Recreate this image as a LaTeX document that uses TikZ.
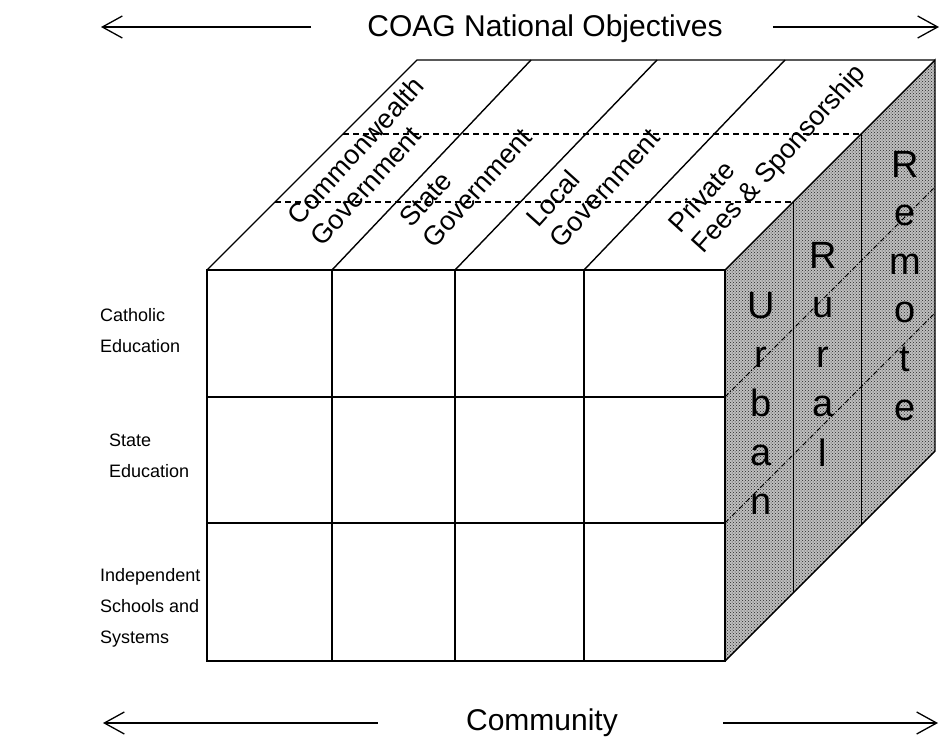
\documentclass[tikz,border=0pt]{standalone}
\usepackage{fontspec}
\setmainfont{Liberation Sans}
\usetikzlibrary{arrows.meta,patterns}

\tikzset{
  axislabel/.style={font=\fontsize{30}{36}\selectfont, inner sep=0pt, anchor=base},
  axisarrow/.style={line width=1.3pt, -{Straight Barb[length=20pt,width=22pt]}},
  rowlabel/.style={font=\fontsize{18}{31}\selectfont, align=left, anchor=west, inner sep=0pt},
  toplabel/.style={font=\fontsize{27}{31}\selectfont, align=left, anchor=west, rotate=48, inner sep=0pt},
  facetext/.style={font=\fontsize{38}{40}\selectfont, anchor=base, inner sep=0pt},
  cubeline/.style={line width=1.4pt},
  divline/.style={line width=1pt},
  dashline/.style={line width=1.1pt, dash pattern=on 6pt off 4pt},
  facedash/.style={line width=0.8pt, dash pattern=on 5pt off 2pt on 1pt off 2pt}
}

\begin{document}
\begin{tikzpicture}[x=1pt,y=-1pt]
\useasboundingbox (0,0) rectangle (940,737);

% right face (shaded)
\fill[black!25] (725,270) -- (935,60) -- (935,451) -- (725,661) -- cycle;
\fill[pattern=crosshatch dots, pattern color=black!85] (725,270) -- (935,60) -- (935,451) -- (725,661) -- cycle;
\draw[facedash] (725,397) -- (935,187);
\draw[facedash] (725,523) -- (935,313);
\draw[divline] (793,202) -- (793,593);
\draw[divline] (861,134) -- (861,525);
\draw[cubeline] (725,270) -- (935,60) -- (935,451) -- (725,661);

% top face
\draw[cubeline] (207,270) -- (417,60) -- (935,60);
\foreach \a/\b in {332/531, 455/657, 584/785}
  \draw[cubeline] (\a,270) -- (\b,60);
\draw[dashline] (275,202) -- (793,202);
\draw[dashline] (343,134) -- (861,134);

% front face
\draw[cubeline] (207,270) rectangle (725,661);
\foreach \x in {332,455,584}
  \draw[cubeline] (\x,270) -- (\x,661);
\foreach \y in {397,523}
  \draw[cubeline] (207,\y) -- (725,\y);

% funding labels
\node[toplabel] (cwlth) at (304,231) {Commonwealth\\Government};
\node[toplabel] (stgov) at (416,233) {State\\Government};
\node[toplabel] (locgov) at (543,233) {Local\\Government};
\node[toplabel] (priv) at (687,240) {Private\\Fees \& Sponsorship};

% location letters
\foreach \ch [count=\i from 0] in {U,r,b,a,n}
  \node[facetext] (urban\i) at (761,318+49*\i) {\ch};
\foreach \ch [count=\i from 0] in {R,u,r,a,l}
  \node[facetext] (rural\i) at (823,268+49.5*\i) {\ch};
\foreach \ch [count=\i from 0] in {R,e,m,o,t,e}
  \node[facetext] (remote\i) at (905,177+48.6*\i) {\ch};

% sectors
\node[rowlabel] (cath) at (100,331) {Catholic\\Education};
\node[rowlabel] (state) at (109,456) {State\\Education};
\node[rowlabel] (indep) at (100,608) {Independent\\Schools and\\Systems};

% axes
\node[axislabel] (coag) at (545,36) {COAG National Objectives};
\coordinate (coagL) at (101,27);
\coordinate (coagR) at (939,27);
\draw[axisarrow, shorten <=56pt] (coag.west |- coagL) -- (coagL);
\draw[axisarrow, shorten <=50pt] (coag.east |- coagR) -- (coagR);

\node[axislabel] (comm) at (542,730) {Community};
\coordinate (commL) at (103,723);
\coordinate (commR) at (938,723);
\draw[axisarrow, shorten <=88pt] (comm.west |- commL) -- (commL);
\draw[axisarrow, shorten <=105pt] (comm.east |- commR) -- (commR);
\end{tikzpicture}
\end{document}
